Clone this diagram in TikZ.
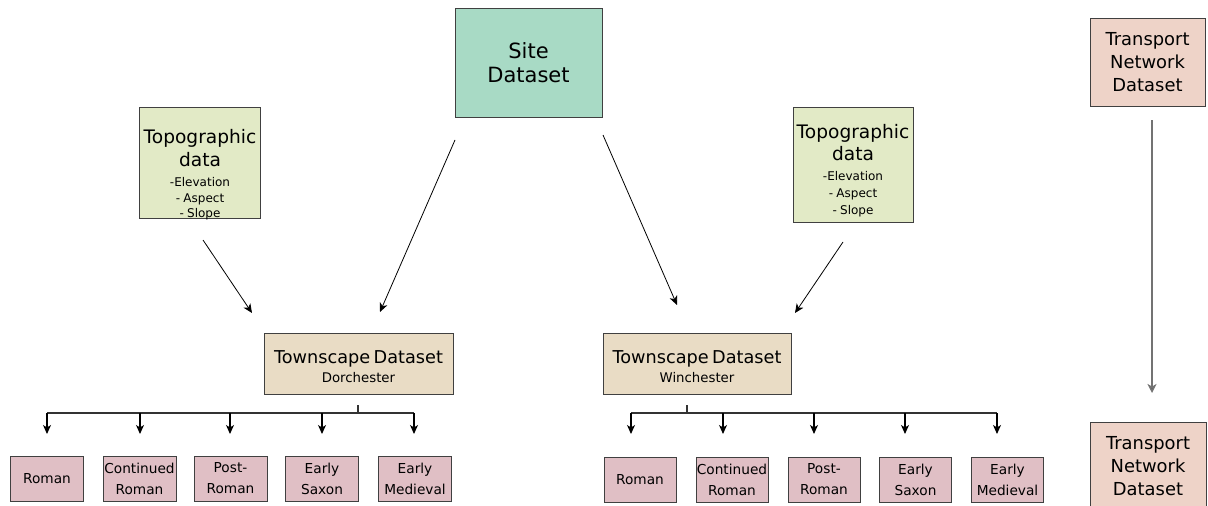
\documentclass[tikz,border=0pt]{standalone}
\usepackage{fontspec}
\setmainfont{DejaVu Sans}
\usetikzlibrary{arrows.meta}
\definecolor{sitec}{HTML}{A8DAC5}
\definecolor{topoc}{HTML}{E2EAC6}
\definecolor{townc}{HTML}{E9DCC5}
\definecolor{perc}{HTML}{E0BFC5}
\definecolor{tranc}{HTML}{EED3C8}
\definecolor{bordc}{HTML}{404040}
\definecolor{busc}{HTML}{333333}
\begin{document}
\begin{tikzpicture}[x=1pt,y=-1pt,
  box/.style={draw=bordc, line width=1pt, inner sep=0pt, align=center, text=black},
  sitebox/.style={box, fill=sitec, minimum width=147pt, minimum height=109pt, font=\fontsize{21}{24}\selectfont},
  topobox/.style={box, fill=topoc, minimum width=121pt, minimum height=113pt},
  townbox/.style={box, fill=townc, minimum width=189pt, minimum height=61pt},
  perbox/.style={box, fill=perc, minimum width=73pt, minimum height=45pt, font=\fontsize{13.7}{21}\selectfont},
  tranbox/.style={box, fill=tranc, minimum width=115pt, minimum height=88pt, font=\fontsize{17.9}{23}\selectfont},
  txt/.style={inner sep=0pt, align=center, text=black},
  arr/.style={draw=black, line width=0.8pt, -{Stealth[length=9pt,width=8pt,inset=2.5pt]}},
  bus/.style={draw=busc, line width=1.3pt},
  tarr/.style={draw=gray!110, line width=1.8pt, -{Stealth[length=9pt,width=9pt,inset=2.5pt,fill=black]}}
]
\useasboundingbox (0,0) rectangle (1208,506);

% main boxes
\node[sitebox] (site) at (528.5,62.5) {Site\\Dataset};
\node[topobox, minimum height=111pt] (topoL) at (200,162.5) {};
\node[txt, text width=119pt] (topoLt) at (200,175)
  {{\fontsize{18.6}{23}\selectfont Topographic\\data\par}{\fontsize{12}{20}\selectfont -Elevation\par}{\fontsize{12}{15.5}\selectfont - Aspect\\ - Slope\par}};
\node[topobox, minimum height=115pt, minimum width=120pt] (topoR) at (853,164.5) {};
\node[txt, text width=118pt] (topoRt) at (853,170.5)
  {{\fontsize{18.6}{22}\selectfont Topographic\\data\par}{\fontsize{12}{20}\selectfont -Elevation\par}{\fontsize{12}{17}\selectfont - Aspect\\ - Slope\par}};
\node[townbox] (townD) at (358.5,363.5) {};
\node[txt, text width=185pt] (townDt) at (358.5,366.5)
  {{\fontsize{17.7}{20}\selectfont Townscape Dataset\par}{\fontsize{13.3}{19}\selectfont Dorchester\par}};
\node[townbox, minimum width=188pt] (townW) at (697,363.5) {};
\node[txt, text width=185pt] (townWt) at (697,366.5)
  {{\fontsize{17.7}{20}\selectfont Townscape Dataset\par}{\fontsize{13.3}{19}\selectfont Winchester\par}};
\node[tranbox] (tranT) at (1147.5,62) {Transport\\Network\\Dataset};
\node[tranbox, minimum width=116pt] (tranB) at (1148,466) {Transport\\Network\\Dataset};

% period boxes, Dorchester
\node[perbox] (dR)  at (47,478.5)    {Roman};
\node[perbox] (dCR) at (139.5,478.5) {Continued\\Roman};
\node[perbox] (dPR) at (230.5,478.5) {Post-\\Roman};
\node[perbox] (dES) at (322,478.5)   {Early\\Saxon};
\node[perbox] (dEM) at (415,478.5)   {Early\\Medieval};
% period boxes, Winchester
\node[perbox, minimum width=72pt] (wR)  at (640,479.5)   {Roman};
\node[perbox, minimum width=72pt] (wCR) at (732,479.5)   {Continued\\Roman};
\node[perbox, minimum width=72pt] (wPR) at (824,479.5)   {Post-\\Roman};
\node[perbox, minimum width=72pt] (wES) at (915.5,479.5) {Early\\Saxon};
\node[perbox, minimum width=72pt] (wEM) at (1007.5,479.5){Early\\Medieval};

% connector end points
\coordinate (aTL1) at (203,240);   \coordinate (aTL2) at (252,313);
\coordinate (aSD1) at (455,140);   \coordinate (aSD2) at (380,312);
\coordinate (aSW1) at (603,135);   \coordinate (aSW2) at (677,305);
\coordinate (aTR1) at (843,242);   \coordinate (aTR2) at (795,313);
\coordinate (aT1) at (1152,120);   \coordinate (aT2) at (1152,393);

\draw[arr] (aTL1) -- (aTL2);
\draw[arr] (aSD1) -- (aSD2);
\draw[arr] (aSW1) -- (aSW2);
\draw[arr] (aTR1) -- (aTR2);
\draw[tarr] (aT1) -- (aT2);

% Dorchester bus
\coordinate (dS) at (358,405);
\coordinate (dB) at (358,413);
\draw[bus] (dS) -- (dB);
\foreach \n/\x in {1/47,2/140,3/230,4/322,5/414}{
  \coordinate (dbus\n) at (\x,413);
  \coordinate (dtip\n) at (\x,434);
}
\draw[bus] (dbus1) -- (dbus5);
\foreach \n in {1,...,5}{ \draw[arr, line width=1.1pt] (dbus\n) -- (dtip\n); }

% Winchester bus
\coordinate (wS) at (687,405);
\coordinate (wB) at (687,413);
\draw[bus] (wS) -- (wB);
\foreach \n/\x in {1/631,2/723,3/814,4/905,5/997}{
  \coordinate (wbus\n) at (\x,413);
  \coordinate (wtip\n) at (\x,434);
}
\draw[bus] (wbus1) -- (wbus5);
\foreach \n in {1,...,5}{ \draw[arr, line width=1.1pt] (wbus\n) -- (wtip\n); }
\end{tikzpicture}
\end{document}
